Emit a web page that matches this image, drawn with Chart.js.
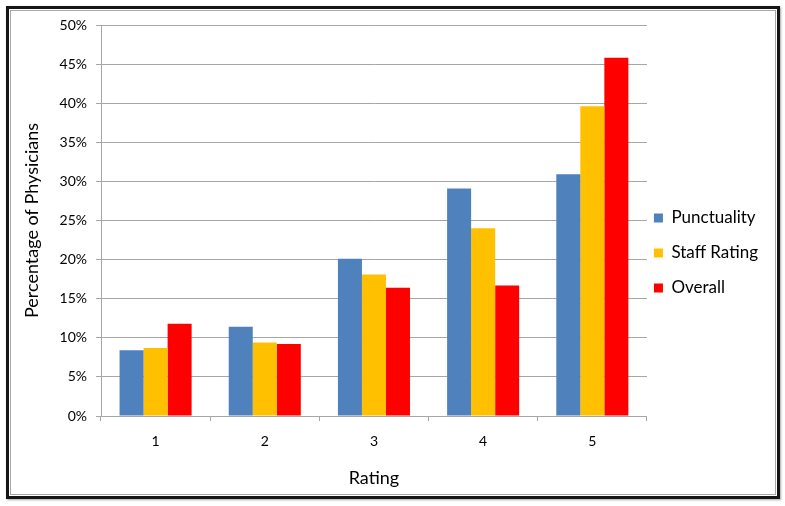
<!DOCTYPE html>
<html>
<head>
<meta charset="utf-8">
<script src="https://cdn.jsdelivr.net/npm/chart.js@4/dist/chart.umd.min.js"></script>
<style>
  html, body { margin: 0; padding: 0; background: #fff; }
  #wrap { position: relative; width: 785px; height: 506px; }
  #frame {
    position: absolute; left: 6px; top: 6px; width: 774px; height: 493px;
    box-sizing: border-box; border: 3px solid #151515;
    box-shadow: inset 0 0 0 1px #fff, inset 0 0 0 2px #a8a8a8, 1px 1px 2px rgba(0,0,0,0.35);
  }
  canvas { position: absolute; left: 0; top: 0; }
</style>
</head>
<body>
<div id="wrap">
  <div id="frame"></div>
  <canvas id="chart" width="785" height="506"></canvas>
</div>
<script>
const ratings = ["1", "2", "3", "4", "5"];
const punctuality = [8.4, 11.4, 20.1, 29.1, 30.9];
const staffRating = [8.7, 9.4, 18.1, 24.0, 39.6];
const overall = [11.8, 9.2, 16.4, 16.7, 45.8];

const yTicks = [0, 5, 10, 15, 20, 25, 30, 35, 40, 45, 50];

const FONT = "Lato, 'Open Sans', sans-serif";
const gridColor = "#a6a6a6";

const ctx = document.getElementById("chart");

new Chart(ctx, {
  type: "bar",
  data: {
    labels: ratings,
    datasets: [
      { label: "Punctuality", data: punctuality, backgroundColor: "#4f81bd" },
      { label: "Staff Rating", data: staffRating, backgroundColor: "#ffc000" },
      { label: "Overall", data: overall, backgroundColor: "#ff0000" },
    ],
  },
  options: {
    responsive: false,
    animation: false,
    datasets: { bar: { categoryPercentage: 0.66, barPercentage: 1.0 } },
    layout: { padding: { top: 25, bottom: 14, left: 0, right: 17 } },
    plugins: {
      tooltip: { enabled: false },
      legend: {
        position: "right",
        labels: {
          boxWidth: 9,
          boxHeight: 9,
          padding: 7,
          color: "#000",
          font: { family: FONT, size: 17, lineHeight: 28 / 17 },
          // single-line arrays so the row height follows the font lineHeight
          generateLabels(chart) {
            return Chart.defaults.plugins.legend.labels.generateLabels(chart)
              .map((item) => ({ ...item, text: [item.text] }));
          },
        },
      },
    },
    scales: {
      x: {
        grid: {
          drawOnChartArea: false, drawTicks: true, tickLength: 5,
          color: gridColor, offset: true,
        },
        border: { color: gridColor },
        ticks: { color: "#000", padding: 12, font: { family: FONT, size: 14 } },
        title: {
          display: true, text: "Rating", color: "#000",
          font: { family: FONT, size: 18 }, padding: { top: 0, bottom: 3 },
        },
        afterFit(scale) { scale.height = 76; },
      },
      y: {
        min: 0,
        max: 50,
        afterBuildTicks(scale) { scale.ticks = yTicks.map((v) => ({ value: v })); },
        grid: { color: gridColor, tickLength: 5 },
        border: { color: gridColor },
        ticks: {
          color: "#000", padding: 9, font: { family: FONT, size: 14 },
          callback: (v) => v + "%",
        },
        title: {
          display: true, text: "Percentage of Physicians", color: "#000",
          font: { family: FONT, size: 18 }, padding: { top: 21, bottom: 0 },
        },
        afterFit(scale) { scale.width = 101; },
      },
    },
  },
});
</script>
</body>
</html>
